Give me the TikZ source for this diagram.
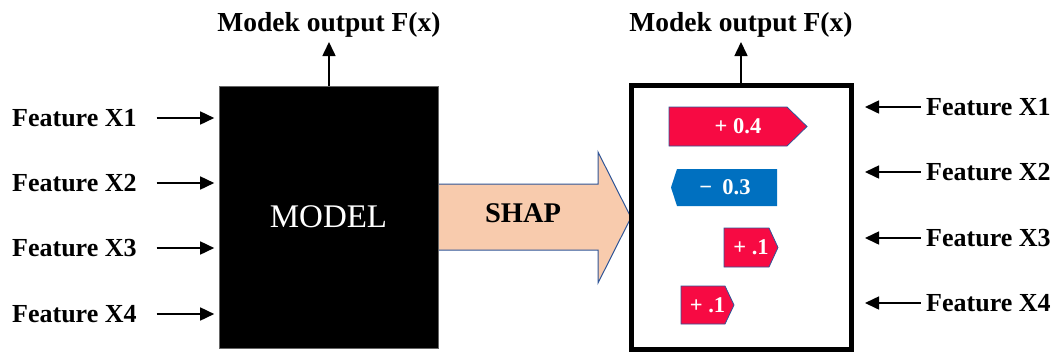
\documentclass[tikz,border=0pt]{standalone}
\usepackage{fontspec}
\setmainfont{Liberation Serif}
\usetikzlibrary{arrows.meta,calc}
\definecolor{shapred}{HTML}{F70A43}
\definecolor{shapblue}{HTML}{0070C0}
\definecolor{peach}{HTML}{F8CBAD}
\definecolor{edgeblue}{HTML}{2F5597}
\begin{document}
\begin{tikzpicture}[x=1pt,y=-1pt,
  lbl/.style={font=\fontsize{26}{28}\selectfont\bfseries, inner sep=0pt},
  outlbl/.style={font=\fontsize{27.5}{30}\selectfont\bfseries, inner sep=0pt, anchor=base},
  arr/.style={line width=1.6pt,-{Triangle[length=14pt,width=13pt]}},
  badge/.style={draw=edgeblue,line width=0.8pt,fill=shapred},
  badgetxt/.style={text=white,font=\fontsize{22.5}{24}\selectfont\bfseries,inner sep=0pt}]
\useasboundingbox (0,0) rectangle (1059,354);

% SHAP transfer arrow (drawn first so the model box covers its tail)
\path[fill=peach,draw=edgeblue,line width=1pt]
  (436,184) -- (598,184) -- (598,152) -- (631,217.5) -- (598,283) -- (598,250) -- (436,250) -- cycle;
\node[font=\fontsize{28.5}{30}\selectfont\bfseries, inner sep=0pt] (shap) at (523,213.5) {SHAP};

% black-box model
\node[fill=black, draw=black!60, line width=0.6pt, minimum width=219pt, minimum height=262pt,
      inner sep=0pt, text=white, font=\fontsize{33}{35}\selectfont] (model) at (328.5,217) {MODEL};

% explained model frame
\node[draw=black, line width=5pt, minimum width=220pt, minimum height=264pt, inner sep=0pt]
  (shapbox) at (741,217.5) {};

% model outputs
\node[outlbl] (out1) at (329,31.5) {Modek output F(x)};
\node[outlbl] (out2) at (741,31.5) {Modek output F(x)};
\coordinate (o1) at (329,42);
\coordinate (o2) at (741,42);
\draw[arr] (model.north -| o1) -- (o1);
\draw[arr] (shapbox.north -| o2) -- (o2);

% input features (left)
\foreach \i/\y in {1/118,2/183,3/248,4/314}{
  \node[lbl, anchor=west] (fl\i) at (12,\y) {Feature X\i};
  \draw[arr] ($(model.west |- fl\i)+(-62,0)$) -- ($(model.west |- fl\i)+(-4.5,0)$);
}

% attributed features (right)
\foreach \i/\y in {1/107,2/172,3/238,4/303}{
  \node[lbl, anchor=west] (fr\i) at (926,\y) {Feature X\i};
  \draw[arr] ($(shapbox.east |- fr\i)+(67,0)$) -- ($(shapbox.east |- fr\i)+(11.5,0)$);
}

% SHAP contributions
\path[badge] (669,107) -- (787,107) -- (807,126.5) -- (787,146) -- (669,146) -- cycle;
\node[badgetxt] (b1) at (738,126.5) {+ 0.4};

\path[fill=shapblue] (677,169) -- (777,169) -- (777,206) -- (677,206) -- (671,187.5) -- cycle;
\node[badgetxt] (b2) at (725,187.5) {−\hspace{0.45em}0.3};

\path[badge] (724,228) -- (769,228) -- (778,247.5) -- (769,267) -- (724,267) -- cycle;
\node[badgetxt] (b3) at (751,247.5) {+ .1};

\path[badge] (681,286) -- (725,286) -- (734,305) -- (725,324) -- (681,324) -- cycle;
\node[badgetxt] (b4) at (707.5,305) {+ .1};
\end{tikzpicture}
\end{document}
